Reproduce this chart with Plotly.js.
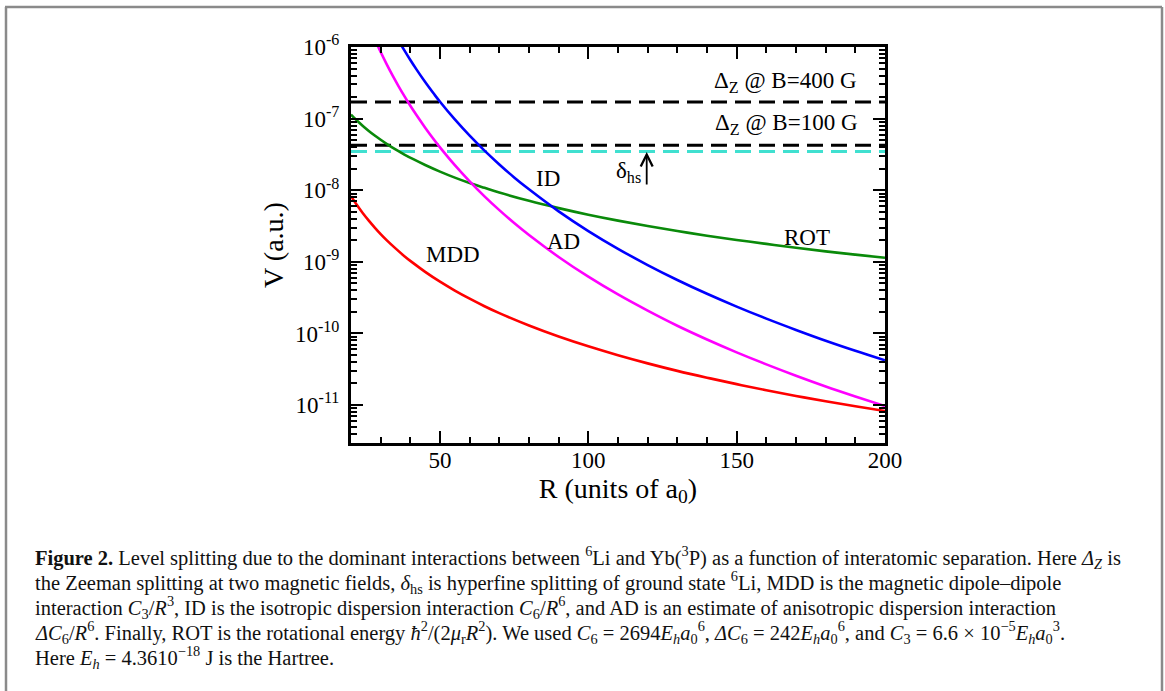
<!DOCTYPE html>
<html>
<head>
<meta charset="utf-8">
<script src="https://cdn.plot.ly/plotly-3.0.1.min.js"></script>
<style>html,body{margin:0;padding:0;background:#fff;}#chart{width:1165px;height:691px;}</style>
</head>
<body>
<div id="chart"></div>
<script>
// Separation R (units of a0)
const R = [20,22,24,26,28,30,32,35,38,41,45,50,55,60,65,70,80,90,100,110,120,130,140,150,160,170,180,190,200];
// MDD (red)
const mdd = [8.25e-9,6.20e-9,4.77e-9,3.76e-9,3.01e-9,2.44e-9,2.01e-9,1.54e-9,1.20e-9,9.58e-10,7.24e-10,5.28e-10,3.97e-10,3.06e-10,2.40e-10,1.92e-10,1.29e-10,9.05e-11,6.6e-11,4.96e-11,3.82e-11,3.00e-11,2.41e-11,1.96e-11,1.61e-11,1.34e-11,1.13e-11,9.62e-12,8.25e-12];
// ROT (green)
const rot = [1.14e-7,9.40e-8,7.90e-8,6.73e-8,5.80e-8,5.06e-8,4.44e-8,3.71e-8,3.15e-8,2.71e-8,2.25e-8,1.82e-8,1.50e-8,1.26e-8,1.08e-8,9.29e-9,7.11e-9,5.62e-9,4.55e-9,3.76e-9,3.16e-9,2.69e-9,2.32e-9,2.02e-9,1.78e-9,1.57e-9,1.40e-9,1.26e-9,1.14e-9];
// ID (blue)
const R_id = [36,38,40,42,45,48,50,55,60,65,70,75,80,90,100,110,120,130,140,150,160,170,180,190,200];
const id = [1.24e-6,8.95e-7,6.58e-7,4.91e-7,3.24e-7,2.20e-7,1.72e-7,9.73e-8,5.77e-8,3.57e-8,2.29e-8,1.51e-8,1.03e-8,5.07e-9,2.69e-9,1.52e-9,9.02e-10,5.58e-10,3.58e-10,2.37e-10,1.61e-10,1.12e-10,7.92e-11,5.73e-11,4.21e-11];
// AD (magenta)
const R_ad = [28,30,32,34,36,38,40,42,45,48,50,55,60,65,70,75,80,90,100,110,120,130,140,150,160,170,180,190,200];
const ad = [1.29e-6,8.50e-7,5.77e-7,4.01e-7,2.85e-7,2.06e-7,1.51e-7,1.13e-7,7.47e-8,5.07e-8,3.97e-8,2.24e-8,1.33e-8,8.22e-9,5.27e-9,3.48e-9,2.37e-9,1.17e-9,6.2e-10,3.50e-10,2.08e-10,1.28e-10,8.23e-11,5.44e-11,3.70e-11,2.57e-11,1.82e-11,1.32e-11,9.69e-12];
// Horizontal levels
const levelR = [20, 200];
const zeeman400 = [1.71e-7, 1.71e-7];
const zeeman100 = [4.26e-8, 4.26e-8];
const hyperfine = [3.47e-8, 3.47e-8];
// Tick labels
const yTickVals = [1e-11,1e-10,1e-9,1e-8,1e-7,1e-6];
const yTickText = ['10<sup>-11</sup>','10<sup>-10</sup>','10<sup>-9</sup>','10<sup>-8</sup>','10<sup>-7</sup>','10<sup>-6</sup>'];
const xTickVals = [50,100,150,200];
const yMinorVals = [];
[-12,-11,-10,-9,-8,-7].forEach(e => { for (let k = 2; k <= 9; k++) yMinorVals.push(k * Math.pow(10, e)); });

const W = 1165, H = 691;
const L = 351, Rr = 885, T = 47, B = 443;
const px = x => (x - L) / (Rr - L);
const py = y => (B - y) / (B - T);

const serif = 'Liberation Serif, Times New Roman, serif';
const lw = 2.6;
const traces = [
  {x: levelR, y: zeeman400, mode:'lines', line:{color:'#000', width:3, dash:'16px,8px'}, name:'Δz 400 G'},
  {x: levelR, y: zeeman100, mode:'lines', line:{color:'#000', width:3, dash:'16px,8px'}, name:'Δz 100 G'},
  {x: levelR, y: hyperfine, mode:'lines', line:{color:'#40e0d0', width:3, dash:'16px,8px'}, name:'δhs'},
  {x: R, y: rot, mode:'lines', line:{color:'#0a8a0a', width:lw, shape:'spline'}, name:'ROT'},
  {x: R_ad, y: ad, mode:'lines', line:{color:'#ff00ff', width:lw, shape:'spline'}, name:'AD'},
  {x: R_id, y: id, mode:'lines', line:{color:'#0000ff', width:lw, shape:'spline'}, name:'ID'},
  {x: R, y: mdd, mode:'lines', line:{color:'#ff0000', width:lw, shape:'spline'}, name:'MDD'}
];

const capFont = {family: serif, size: 20.5, color: '#111'};
const capX = px(33);
const capLines = [
  '<b>Figure 2.</b> Level splitting due to the dominant interactions between <sup>6</sup>Li and Yb(<sup>3</sup>P) as a function of interatomic separation. Here <i>Δ<sub>Z</sub></i> is',
  'the Zeeman splitting at two magnetic fields, <i>δ</i><sub>hs</sub> is hyperfine splitting of ground state <sup>6</sup>Li, MDD is the magnetic dipole–dipole',
  'interaction <i>C</i><sub>3</sub>/<i>R</i><sup>3</sup>, ID is the isotropic dispersion interaction <i>C</i><sub>6</sub>/<i>R</i><sup>6</sup>, and AD is an estimate of anisotropic dispersion interaction',
  '<i>ΔC</i><sub>6</sub>/<i>R</i><sup>6</sup>. Finally, ROT is the rotational energy <i>ħ</i><sup>2</sup>/(2<i>μ</i><sub>r</sub><i>R</i><sup>2</sup>). We used <i>C</i><sub>6</sub> = 2694<i>E</i><sub><i>h</i></sub><i>a</i><sub>0</sub><sup>6</sup>, <i>ΔC</i><sub>6</sub> = 242<i>E</i><sub><i>h</i></sub><i>a</i><sub>0</sub><sup>6</sup>, and <i>C</i><sub>3</sub> = 6.6 × 10<sup>−5</sup><i>E</i><sub><i>h</i></sub><i>a</i><sub>0</sub><sup>3</sup>.',
  'Here <i>E</i><sub><i>h</i></sub> = 4.3610<sup>−18</sup> J is the Hartree.'
];
const capY = [557, 582, 607, 632, 657];

const labFont = {family: serif, size: 23, color: '#000'};
const annotations = [
  {text:'Δ<sub>Z</sub> @ B=400 G', x:px(785), y:py(82)},
  {text:'Δ<sub>Z</sub> @ B=100 G', x:px(786), y:py(124)},
  {text:'δ<sub>hs</sub>', x:px(628), y:py(172)},
  {text:'ID', x:px(548), y:py(178.5)},
  {text:'AD', x:px(563), y:py(241.5)},
  {text:'MDD', x:px(453), y:py(254)},
  {text:'ROT', x:px(807), y:py(237)}
].map(a => Object.assign({xref:'paper', yref:'paper', showarrow:false, xanchor:'center', yanchor:'middle', font:labFont}, a));

annotations.push({xref:'paper', yref:'paper', x:px(646.7), y:py(152), ax:0, ay:34, text:'', showarrow:true, arrowhead:5, arrowsize:1.3, arrowwidth:1.8, arrowcolor:'#000'});

capLines.forEach((t, i) => annotations.push({xref:'paper', yref:'paper', x:capX, y:py(capY[i]), xanchor:'left', yanchor:'middle', text:t, showarrow:false, font:capFont, align:'left'}));

const frameColor = '#8a8a8a';
const shapes = [
  {type:'line', xref:'paper', yref:'paper', x0:px(5), x1:px(1162), y0:py(7), y1:py(7), line:{color:frameColor, width:2.5}},
  {type:'line', xref:'paper', yref:'paper', x0:px(6), x1:px(6), y0:py(7), y1:py(700), line:{color:frameColor, width:2.5}},
  {type:'line', xref:'paper', yref:'paper', x0:px(1162), x1:px(1162), y0:py(7), y1:py(700), line:{color:frameColor, width:2.5}}
];

const layout = {
  width: W, height: H,
  margin: {l: L, r: W - Rr, t: T, b: H - B, pad: 0},
  paper_bgcolor: '#fff', plot_bgcolor: '#fff',
  showlegend: false,
  font: {family: serif, color: '#000'},
  xaxis: {
    range: [20, 200], tickmode:'array', tickvals: xTickVals,
    ticks:'inside', ticklen: 12, tickwidth: 2, tickcolor:'#000',
    showline: true, linewidth: 3, linecolor:'#000', mirror:'allticks',
    showgrid: false, zeroline: false, ticklabelstandoff: -6,
    tickfont: {family: serif, size: 23, color:'#000'},
    minor: {dtick: 10, tick0: 0, ticks:'inside', ticklen: 6, tickwidth: 2, tickcolor:'#000', showgrid:false},
    title: {text: 'R (units of a<sub>0</sub>)', font: {family: serif, size: 28, color:'#000'}, standoff: 0},
    automargin: false
  },
  yaxis: {
    type: 'log', range: [-11.53, -6], tickmode:'array', tickvals: yTickVals, ticktext: yTickText,
    ticks:'inside', ticklen: 12, tickwidth: 2, tickcolor:'#000',
    showline: true, linewidth: 3, linecolor:'#000', mirror:'allticks',
    showgrid: false, zeroline: false, ticklabelstandoff: 4,
    tickfont: {family: serif, size: 23, color:'#000'},
    minor: {tickmode:'array', tickvals: yMinorVals, ticks:'inside', ticklen: 6, tickwidth: 2, tickcolor:'#000', showgrid:false},
    title: {text: 'V (a.u.)', font: {family: serif, size: 28, color:'#000'}, standoff: 4},
    automargin: false
  },
  annotations: annotations,
  shapes: shapes
};

Plotly.newPlot('chart', traces, layout, {displayModeBar: false, staticPlot: true});
</script>
</body>
</html>
